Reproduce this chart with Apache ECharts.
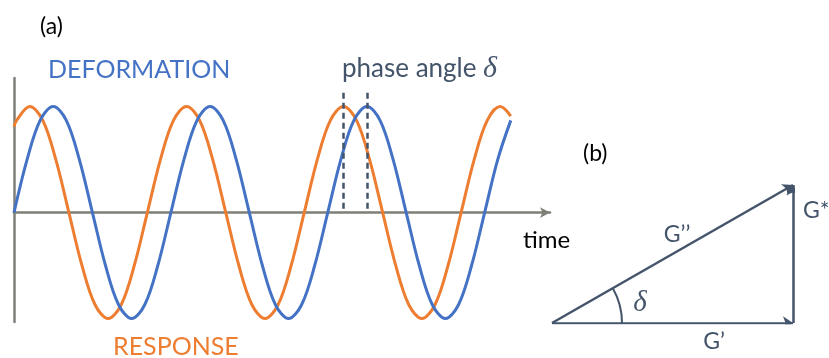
<!DOCTYPE html>
<html>
<head>
<meta charset="utf-8">
<title>phase angle</title>
<script src="https://cdn.jsdelivr.net/npm/echarts@6/dist/echarts.min.js"></script>
<style>
  html,body{margin:0;padding:0;background:#fff;}
  #chart{width:829px;height:358px;}
</style>
</head>
<body>
<div id="chart"></div>
<script>
// (a) 两条曲线, 读图取值 (时间单位: 一个周期 = 12)
var deformT = [0,1,2,3,4,5,6,7,8,9,10,11,12,13,14,15,16,17,18,19,20,21,22,23,24,25,26,27,28,29,30,31,32,33,34,35,36,37,38];
var deformY = [0,0.5,0.87,1,0.87,0.5,0,-0.5,-0.87,-1,-0.87,-0.5,
  0,0.5,0.87,1,0.87,0.5,0,-0.5,-0.87,-1,-0.87,-0.5,
  0,0.5,0.87,1,0.87,0.5,0,-0.5,-0.87,-1,-0.87,-0.5,
  0,0.5,0.87];
var responseT = [0,0.2,1.2,2.2,3.2,4.2,5.2,6.2,7.2,8.2,9.2,10.2,11.2,12.2,13.2,14.2,15.2,16.2,17.2,18.2,19.2,
  20.2,21.2,22.2,23.2,24.2,25.2,26.2,27.2,28.2,29.2,30.2,31.2,32.2,33.2,34.2,35.2,36.2,37.2,38];
var responseY = [0.81,
  0.87,1,0.87,0.5,0,-0.5,-0.87,-1,-0.87,-0.5,0,0.5,
  0.87,1,0.87,0.5,0,-0.5,-0.87,-1,-0.87,-0.5,0,0.5,
  0.87,1,0.87,0.5,0,-0.5,-0.87,-1,-0.87,-0.5,0,0.5,
  0.87,1,0.91];
var phaseMarks = [25.2, 27];   // 两个峰的位置
var markTop = 1.13;

// (b) 矢量三角形
var vecOrigin = [0, 0];
var vecGp = [10, 0];      // G'
var vecGpp = [10, 5.7];   // G''
var deltaDeg = 29.7;

var slate = '#44546a';
var axisGray = '#7f7f77';

function pairs(xs, ys){
  var out = [];
  for(var i=0;i<xs.length;i++){
    out.push([xs[i], ys[i]]);
  }
  return out;
}

function txt(x, y, text, font, color, align){
  return {
    type:'text', x:x, y:y, silent:true,
    style:{text:text, font:font, fill:color, align:align || 'left', verticalAlign:'middle'}
  };
}

var mychart = echarts.init(document.getElementById('chart'));
var option = {
  animation:false,
  grid:[
    {left:14, top:78, width:536, height:244},
    {left:552, top:185, width:241, height:138}
  ],
  xAxis:[
    {type:'value', gridIndex:0, min:0, max:41,
      axisLine:{onZero:true, symbol:['none','arrow'], symbolSize:[8,10], lineStyle:{color:axisGray, width:2.5}},
      axisTick:{show:false}, axisLabel:{show:false}, splitLine:{show:false}},
    {type:'value', gridIndex:1, min:0, max:10, show:false}
  ],
  yAxis:[
    {type:'value', gridIndex:0, min:-1.033, max:1.27,
      axisLine:{show:true, onZero:true, lineStyle:{color:axisGray, width:2.5}},
      axisTick:{show:false}, axisLabel:{show:false}, splitLine:{show:false}},
    {type:'value', gridIndex:1, min:0, max:5.7, show:false}
  ],
  series:[
    {
      name:'RESPONSE', type:'line', xAxisIndex:0, yAxisIndex:0,
      data:pairs(responseT, responseY), smooth:0.35, showSymbol:false,
      lineStyle:{color:'#ed7d31', width:3}, itemStyle:{color:'#ed7d31'}
    },
    {
      name:'DEFORMATION', type:'line', xAxisIndex:0, yAxisIndex:0,
      data:pairs(deformT, deformY), smooth:0.35, showSymbol:false,
      lineStyle:{color:'#4472c4', width:3}, itemStyle:{color:'#4472c4'},
      markLine:{
        silent:true, symbol:['none','none'], label:{show:false},
        lineStyle:{color:slate, width:2.5, type:[6,4]},
        data:[
          [{coord:[phaseMarks[0], markTop]}, {coord:[phaseMarks[0], 0]}],
          [{coord:[phaseMarks[1], markTop]}, {coord:[phaseMarks[1], 0]}]
        ]
      }
    },
    {
      type:'lines', coordinateSystem:'cartesian2d', xAxisIndex:1, yAxisIndex:1,
      symbol:['none','arrow'], symbolSize:10, silent:true,
      lineStyle:{color:slate, width:2.5, opacity:1, curveness:0},
      data:[
        {coords:[vecOrigin, vecGp]},
        {coords:[vecOrigin, vecGpp]},
        {coords:[vecGp, vecGpp]}
      ]
    },
    {
      type:'gauge', center:[552, 323], radius:71,
      startAngle:deltaDeg, endAngle:0, min:0, max:1, silent:true,
      axisLine:{lineStyle:{width:2, color:[[1, slate]]}},
      splitLine:{show:false}, axisTick:{show:false}, axisLabel:{show:false},
      pointer:{show:false}, anchor:{show:false}, progress:{show:false},
      title:{show:false}, detail:{show:false},
      data:[{value:0}]
    }
  ],
  graphic:[
    txt(40, 27, '(a)', '23px Lato', '#000'),
    txt(48, 70, 'DEFORMATION', '25px Lato', '#4472c4'),
    {
      type:'text', x:342, y:69, silent:true,
      style:{
        text:'phase angle {d|δ}', font:'26px Lato', fill:slate, verticalAlign:'middle',
        rich:{d:{fontStyle:'italic', fontSize:30, fontFamily:'Liberation Serif', fill:slate}}
      }
    },
    txt(523, 240, 'time', '24px Lato', '#000'),
    txt(113, 347, 'RESPONSE', '25px Lato', '#ed7d31'),
    txt(583, 154, '(b)', '23px Lato', '#000'),
    txt(677, 235, 'G’’', '23px Lato', slate, 'center'),
    txt(803, 211, 'G*', '23px Lato', slate),
    txt(714, 342, 'G’', '23px Lato', slate, 'center'),
    txt(640, 303, 'δ', 'italic 29px "Liberation Serif"', slate, 'center')
  ]
};
mychart.setOption(option);
</script>
</body>
</html>
